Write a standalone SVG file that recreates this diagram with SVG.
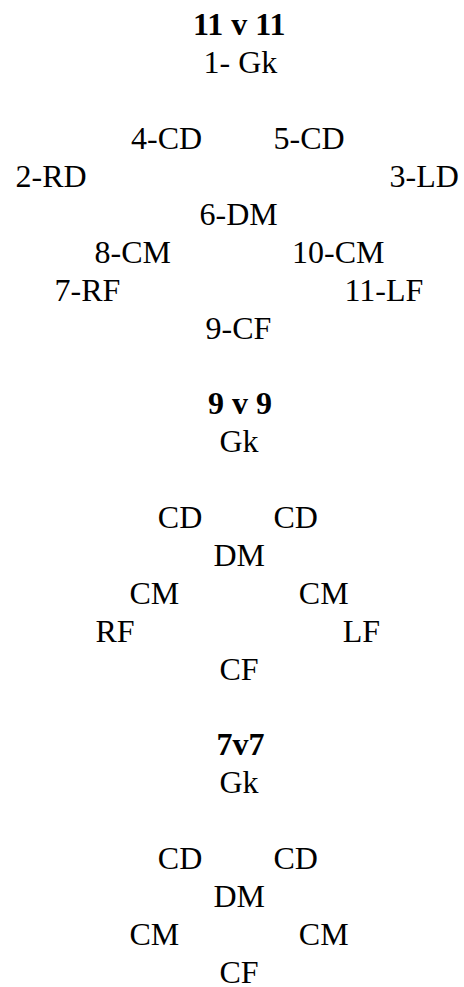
<svg xmlns="http://www.w3.org/2000/svg" width="464" height="987" viewBox="0 0 464 987">
  <style>
    text { font-family: "Liberation Serif", "Times New Roman", serif; font-size: 32px; fill: #000; }
    .title { font-weight: bold; }
  </style>
  <rect width="464" height="987" fill="#fff"/>

  <!-- 11 v 11 formation -->
  <g id="formation-11">
    <text class="title" x="193" y="35.3">11 v 11</text>
    <text x="203.5" y="73.2">1- Gk</text>
    <text x="131" y="149">4-CD</text>
    <text x="273.5" y="149">5-CD</text>
    <text x="15.5" y="186.9">2-RD</text>
    <text x="389.5" y="186.9">3-LD</text>
    <text x="199.5" y="224.8">6-DM</text>
    <text x="94.5" y="262.7">8-CM</text>
    <text x="292" y="262.7">10-CM</text>
    <text x="54.5" y="300.6">7-RF</text>
    <text x="344.5" y="300.6">11-LF</text>
    <text x="205.5" y="338.5">9-CF</text>
  </g>

  <!-- 9 v 9 formation -->
  <g id="formation-9">
    <text class="title" x="208" y="414.3">9 v 9</text>
    <text x="219.5" y="452.2">Gk</text>
    <text x="157.8" y="528">CD</text>
    <text x="273.5" y="528">CD</text>
    <text x="213.5" y="565.9">DM</text>
    <text x="129.5" y="603.8">CM</text>
    <text x="298.8" y="603.8">CM</text>
    <text x="95.5" y="641.7">RF</text>
    <text x="342.8" y="641.7">LF</text>
    <text x="219.5" y="679.6">CF</text>
  </g>

  <!-- 7v7 formation -->
  <g id="formation-7">
    <text class="title" x="216.5" y="755.4">7v7</text>
    <text x="219.5" y="793.3">Gk</text>
    <text x="157.8" y="869.1">CD</text>
    <text x="273.5" y="869.1">CD</text>
    <text x="213.5" y="907">DM</text>
    <text x="129.5" y="944.9">CM</text>
    <text x="298.8" y="944.9">CM</text>
    <text x="219.5" y="982.8">CF</text>
  </g>

  <g id="connectors"></g>
</svg>
